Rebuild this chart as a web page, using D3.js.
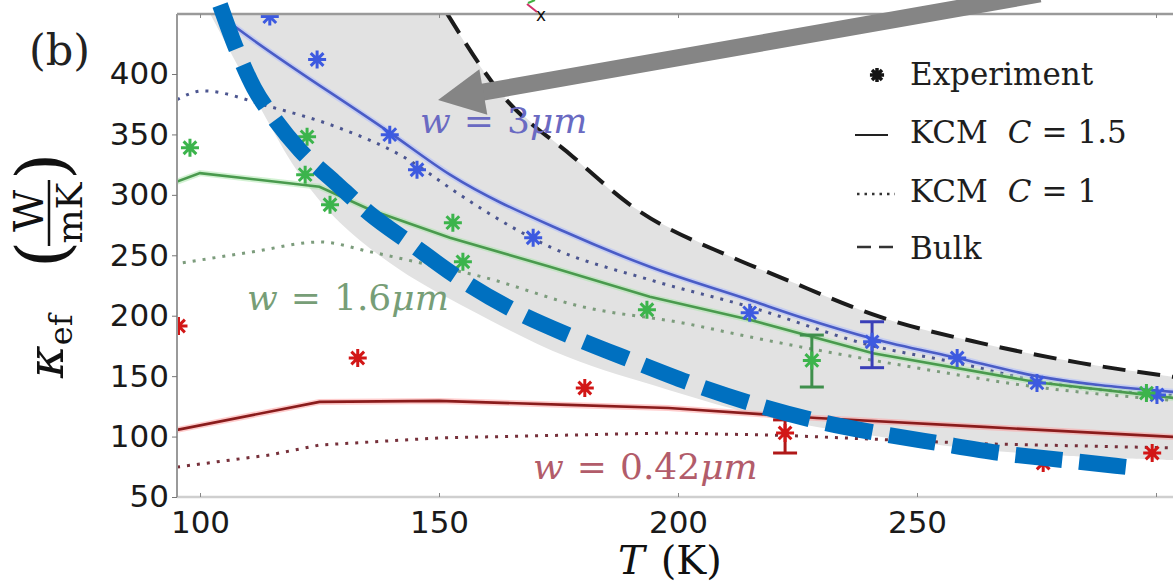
<!DOCTYPE html>
<html>
<head>
<meta charset="utf-8">
<script src="https://cdn.jsdelivr.net/npm/d3@7"></script>
<style>
  body { margin: 0; background: #fff; }
  svg { display: block; }
  .axis .tick text { font-family: "DejaVu Sans", sans-serif; font-size: 31px; fill: #1a1a1a; }
  .serif { font-family: "DejaVu Serif", "Liberation Serif", serif; }
</style>
</head>
<body>
<script>
//wrap everything in a self-executing function
(function all(){
  //tick values
  var xTicks = [100, 150, 200, 250, 300];
  var yTicks = [50, 100, 150, 200, 250, 300, 350, 400];

  //bulk curve, [T (K), kappa]
  var bulk = [[151.7,450],[162.8,384.6],[178,331.6],[190.6,290],[211.5,248],[221.3,232],
              [242.3,199],[263.2,177.5],[284.1,161],[303.6,149.4]];
  //lower edge of the shaded band
  var bandLower = [[102.1,450],[108.4,403.3],[114.6,357.8],[120.9,316.4],[129.3,277],[141.8,238],
                   [156.5,205],[176.8,166],[197.7,139],[218.6,116],[240.2,101],[261.1,90],
                   [282,84],[303.6,80.6]];

  //w = 3um
  var blueC15 = [[103,452],[107.7,438],[139.7,351.5],[152.3,316.7],[176.8,268.6],[194.1,240.5],
                 [215,213],[225.5,199],[240.8,181],[258.4,165],[275.1,150],[303.6,137]];
  var blueC1 = [[95.2,378.8],[100.6,386],[114.6,373],[128.7,356],[142.5,331.6],[154.4,300],[159.2,287.7],
                [173.2,257],[194.1,229.7],[215,207.3],[240.8,175],[258.4,161],[275,146],[303.6,134]];
  var blueExp = [[114.6,447.5],[124.5,412],[139.7,349.8],[145.4,320.8],[169.7,264.5],[215,202.4],
                 [240.6,178.4],[258.4,165],[275.1,144.4],[300.2,134.5]];

  //w = 1.6um
  var greenC15 = [[95.2,311],[100,318],[125,306.7],[135.6,287.7],[152.3,264.5],[173.2,240.5],[194.1,215.6],
                  [215,196.6],[240.8,169],[275,145],[303.6,132]];
  var greenC1 = [[96.4,243.8],[111.1,252.9],[125.1,261],[135.6,252.9],[146,243.8],[159.2,232],[180.1,207.3],
                 [201,194],[215,182.5],[250,156.8],[275,141],[303.6,130]];
  var greenExp = [[97.9,339],[122.4,348],[122,316.7],[127.2,291.8],[152.9,277],[155,244.6],[193.5,204.9],
                  [228,163],[298,136]];

  //w = 0.42um
  var redC15 = [[95.2,105.5],[125,128.7],[150,129.5],[177,126.2],[198,123.7],[229,115.4],[264,108],[303.6,99.7]];
  var redC1 = [[95.2,74.8],[114.6,84.8],[125,93],[150,98.9],[198,103],[222,101],[264,94],[303.6,90.6]];
  var redExp = [[95.5,191.5],[133,165],[180.5,140.2],[222.4,103],[276.4,78.1],[299.2,86.4]];

  //error bars: red, green, blue
  var errT = [222.4, 228, 240.6];
  var errLo = [86.4, 141, 157];
  var errHi = [113.8, 184, 195];

  //hand-drawn annotations, in data units
  var blueDash = [[104.2,457.1],[107.7,419.8],[111.3,388.4],[115.3,364.4],[120.9,337.1],[128.2,310.6],
                  [135.6,284.2],[143.9,260.2],[153.8,232],[165.5,204.7],[178,182.4],[190,163.4],
                  [202.5,144.3],[215.1,127.8],[228.2,113.7],[241.6,103],[254.2,94.7],[267.4,86.4],
                  [280.5,80.6],[293.9,74.8]];
  var arrowFrom = [275.7, 466.2];
  var arrowTo = [149.8, 378.5];

  var width = 1173, height = 584;

  var svg = d3.select("body").append("svg")
    .attr("width", width)
    .attr("height", height);

  //scales
  var x = d3.scaleLinear().domain([100, 300]).range([200, 1156]);
  var y = d3.scaleLinear().domain([50, 400]).range([497, 74]);

  //plot clip
  svg.append("clipPath").attr("id", "plotClip")
    .append("rect").attr("x", 177).attr("y", 14).attr("width", 1000).attr("height", 483);

  var plot = svg.append("g").attr("clip-path", "url(#plotClip)");

  var line = d3.line().x(function(d){ return x(d[0]); }).y(function(d){ return y(d[1]); })
    .curve(d3.curveMonotoneX);
  var straight = d3.line().x(function(d){ return x(d[0]); }).y(function(d){ return y(d[1]); });
  var smooth = d3.line().x(function(d){ return x(d[0]); }).y(function(d){ return y(d[1]); })
    .curve(d3.curveCatmullRom);

  //shaded band between bulk and lower edge
  var upperBack = smooth(bulk.slice().reverse());
  plot.append("path")
    .attr("d", smooth(bandLower) + "L" + upperBack.slice(1) + "Z")
    .attr("fill", "#e2e2e2");

  //bulk dashed
  plot.append("path")
    .attr("d", line(bulk))
    .attr("fill", "none").attr("stroke", "#1b1b1b")
    .attr("stroke-width", 4).attr("stroke-dasharray", "23 12");

  //theory curves
  var curves = [
    {data: blueC15, color: "#4a5cc6", halo: "#a8b8ff", dotted: false, gen: line},
    {data: blueC1, color: "#4c5690", halo: null, dotted: true, gen: line},
    {data: greenC15, color: "#4a9a4e", halo: "#a8e6a8", dotted: false, gen: straight},
    {data: greenC1, color: "#7c9c7c", halo: null, dotted: true, gen: line},
    {data: redC15, color: "#8a1c1c", halo: "#ff9a9a", dotted: false, gen: straight},
    {data: redC1, color: "#76303a", halo: null, dotted: true, gen: straight}
  ];
  curves.forEach(function(c){
    if (c.halo) {
      plot.append("path").attr("d", c.gen(c.data))
        .attr("fill", "none").attr("stroke", c.halo)
        .attr("stroke-width", 6).attr("stroke-opacity", 0.5);
    }
    plot.append("path").attr("d", c.gen(c.data))
      .attr("fill", "none").attr("stroke", c.color)
      .attr("stroke-width", c.dotted ? 3 : 2.6)
      .attr("stroke-dasharray", c.dotted ? "3 7" : null);
  });

  //error bars
  var errColors = ["#b01818", "#3f8f4c", "#3a3fb8"];
  errT.forEach(function(t, i){
    var g = plot.append("g").attr("stroke", errColors[i]).attr("stroke-width", 3);
    g.append("line").attr("x1", x(t)).attr("x2", x(t)).attr("y1", y(errLo[i])).attr("y2", y(errHi[i]));
    g.append("line").attr("x1", x(t) - 12).attr("x2", x(t) + 12).attr("y1", y(errLo[i])).attr("y2", y(errLo[i]));
    g.append("line").attr("x1", x(t) - 12).attr("x2", x(t) + 12).attr("y1", y(errHi[i])).attr("y2", y(errHi[i]));
  });

  //8-arm asterisk marker
  var asterisk = {
    draw: function(context, size){
      var r = Math.sqrt(size) / 2, d = r * Math.SQRT1_2;
      context.moveTo(0, -r); context.lineTo(0, r);
      context.moveTo(-r, 0); context.lineTo(r, 0);
      context.moveTo(-d, -d); context.lineTo(d, d);
      context.moveTo(-d, d); context.lineTo(d, -d);
    }
  };
  var star = d3.symbol().type(asterisk).size(324);

  [[blueExp, "#3d5ae0"], [greenExp, "#3cb44c"], [redExp, "#d21616"]].forEach(function(s){
    plot.selectAll(null).data(s[0]).enter().append("path")
      .attr("d", star)
      .attr("transform", function(d){ return "translate(" + x(d[0]) + "," + y(d[1]) + ")"; })
      .attr("fill", "none").attr("stroke", s[1]).attr("stroke-width", 3);
  });

  //width labels
  function wLabel(px, py, color, num){
    var t = svg.append("text").attr("class", "serif")
      .attr("x", px).attr("y", py)
      .attr("font-size", 36).attr("fill", color);
    t.append("tspan").attr("font-style", "italic").text("w");
    t.append("tspan").attr("dx", 13).text("=");
    t.append("tspan").attr("dx", 13).text(num);
    t.append("tspan").attr("font-style", "italic").text("μm");
  }
  wLabel(420, 133, "#6a6ac2", "3");
  wLabel(247, 310, "#779e77", "1.6");
  wLabel(533, 479, "#b25c6a", "0.42");

  //axes (the 300 label falls off the cropped edge)
  var xAxis = d3.axisBottom(x).tickValues(xTicks).tickSizeInner(-4).tickSizeOuter(0).tickPadding(14)
    .tickFormat(function(d){ return d === 300 ? "" : d; });
  var gx = svg.append("g").attr("class", "axis").attr("transform", "translate(0,497)").call(xAxis);
  gx.select(".domain").attr("stroke", "#cfcfcf").attr("stroke-width", 2.5)
    .attr("d", "M177,0H1173");
  gx.selectAll(".tick line").attr("stroke", "#888");

  var yAxis = d3.axisLeft(y).tickValues(yTicks).tickSize(5).tickSizeOuter(0).tickPadding(3);
  var gy = svg.append("g").attr("class", "axis").attr("transform", "translate(177,0)").call(yAxis);
  gy.select(".domain").attr("stroke", "#9a9a9a").attr("stroke-width", 2)
    .attr("d", "M0,14V497");
  gy.selectAll(".tick line").attr("stroke", "#777");

  var topAxis = d3.axisTop(x).tickValues(xTicks).tickSizeInner(-4).tickSizeOuter(0).tickFormat("");
  var gt = svg.append("g").attr("transform", "translate(0,14)").call(topAxis);
  gt.select(".domain").attr("stroke", "#9a9a9a").attr("stroke-width", 2.5).attr("d", "M177,0H1173");
  gt.selectAll(".tick line").attr("stroke", "#888");

  //legend
  var legend = svg.append("g").attr("class", "serif").attr("font-size", 31).attr("fill", "#1e1e1e");
  legend.append("path").attr("d", d3.symbol().type(asterisk).size(200))
    .attr("transform", "translate(877,75)").attr("fill", "none").attr("stroke", "#151515").attr("stroke-width", 3.5);
  legend.append("line").attr("x1", 855).attr("x2", 888).attr("y1", 135).attr("y2", 135)
    .attr("stroke", "#222").attr("stroke-width", 2);
  legend.append("line").attr("x1", 857).attr("x2", 895).attr("y1", 194).attr("y2", 194)
    .attr("stroke", "#333").attr("stroke-width", 2.5).attr("stroke-dasharray", "2.5 5");
  legend.append("line").attr("x1", 857).attr("x2", 895).attr("y1", 247).attr("y2", 247)
    .attr("stroke", "#333").attr("stroke-width", 2.5).attr("stroke-dasharray", "14 8");
  legend.append("text").attr("x", 910).attr("y", 85).text("Experiment");
  var r2 = legend.append("text").attr("x", 910).attr("y", 143);
  r2.append("tspan").text("KCM");
  r2.append("tspan").attr("dx", 20).attr("font-style", "italic").text("C");
  r2.append("tspan").attr("dx", 10).text("=");
  r2.append("tspan").attr("dx", 10).text("1.5");
  var r3 = legend.append("text").attr("x", 910).attr("y", 202);
  r3.append("tspan").text("KCM");
  r3.append("tspan").attr("dx", 20).attr("font-style", "italic").text("C");
  r3.append("tspan").attr("dx", 10).text("=");
  r3.append("tspan").attr("dx", 10).text("1");
  legend.append("text").attr("x", 910).attr("y", 259).text("Bulk");

  //thick blue dashed annotation
  svg.append("path")
    .attr("d", line(blueDash))
    .attr("fill", "none").attr("stroke", "#0070c0")
    .attr("stroke-width", 16).attr("stroke-dasharray", "47 17");

  //gray arrow
  var ax0 = x(arrowFrom[0]), ay0 = y(arrowFrom[1]);
  var ax1 = x(arrowTo[0]), ay1 = y(arrowTo[1]);
  var ang = Math.atan2(ay1 - ay0, ax1 - ax0);
  var headLen = 46, headHalf = 23;
  var bx = ax1 - headLen * Math.cos(ang), by = ay1 - headLen * Math.sin(ang);
  svg.append("line").attr("x1", ax0).attr("y1", ay0).attr("x2", bx + 2 * Math.cos(ang)).attr("y2", by + 2 * Math.sin(ang))
    .attr("stroke", "#858585").attr("stroke-width", 17);
  svg.append("path")
    .attr("d", "M" + ax1 + "," + ay1 +
      "L" + (bx + headHalf * Math.sin(ang)) + "," + (by - headHalf * Math.cos(ang)) +
      "L" + (bx - headHalf * Math.sin(ang)) + "," + (by + headHalf * Math.cos(ang)) + "Z")
    .attr("fill", "#858585");

  //small axis glyph at top
  svg.append("line").attr("x1", 527).attr("y1", 4).attr("x2", 537).attr("y2", 12)
    .attr("stroke", "#d0306a").attr("stroke-width", 2);
  svg.append("line").attr("x1", 528).attr("y1", 3).attr("x2", 535).attr("y2", 0)
    .attr("stroke", "#40b040").attr("stroke-width", 2);
  svg.append("text").attr("x", 541).attr("y", 21).attr("text-anchor", "middle")
    .attr("font-family", "DejaVu Sans, sans-serif").attr("font-size", 17).attr("fill", "#111").text("x");

  //panel tag
  svg.append("text").attr("class", "serif").attr("x", 29).attr("y", 65)
    .attr("font-size", 43).attr("fill", "#222").text("(b)");

  //x title
  var xt = svg.append("text").attr("class", "serif").attr("x", 618).attr("y", 574)
    .attr("font-size", 40).attr("fill", "#111");
  xt.append("tspan").attr("font-style", "italic").text("T");
  xt.append("tspan").attr("dx", 16).text("(K)");

  //y title, rotated
  var yl = svg.append("g").attr("class", "serif").attr("fill", "#111")
    .attr("transform", "translate(63,342) rotate(-90)");
  var kt = yl.append("text").attr("x", -36).attr("y", 0).attr("font-size", 50);
  kt.append("tspan").attr("font-style", "italic").text("κ");
  kt.append("tspan").attr("font-size", 32).attr("dy", 9).text("ef");
  yl.append("text").attr("x", 74).attr("y", 3).attr("font-size", 70).text("(");
  yl.append("text").attr("x", 131).attr("y", -20).attr("font-size", 41).attr("text-anchor", "middle").text("W");
  yl.append("line").attr("x1", 96).attr("x2", 162).attr("y1", -14).attr("y2", -14)
    .attr("stroke", "#111").attr("stroke-width", 2.5);
  yl.append("text").attr("x", 129).attr("y", 19).attr("font-size", 36).attr("text-anchor", "middle").text("mK");
  yl.append("text").attr("x", 162).attr("y", 3).attr("font-size", 70).text(")");
})();
</script>
</body>
</html>
